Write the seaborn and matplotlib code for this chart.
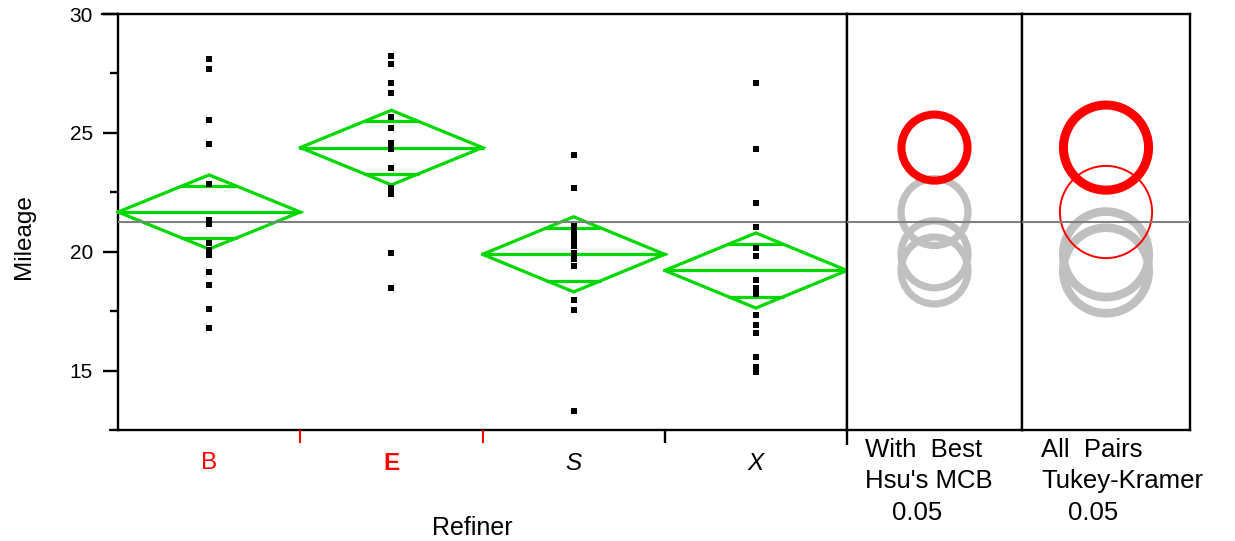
import numpy as np
import pandas as pd
import matplotlib
matplotlib.use("Agg")
import matplotlib.pyplot as plt
import seaborn as sns
from matplotlib.patches import Circle
from matplotlib.lines import Line2D

# ---------------- data ----------------
refiners = ["B", "E", "S", "X"]
mileage_B = [28.11, 27.69, 25.54, 24.53, 22.85, 21.35, 21.18, 20.38, 20.09, 19.85,
             19.16, 18.60, 17.60, 16.80]
mileage_E = [28.25, 27.90, 27.11, 26.68, 25.67, 25.22, 24.58, 24.32, 23.51, 22.68,
             22.43, 19.96, 18.49]
mileage_S = [24.07, 22.70, 21.10, 20.96, 20.71, 20.46, 20.25, 19.95, 19.70, 19.40,
             17.95, 17.55, 13.32]
mileage_X = [27.11, 24.32, 22.06, 21.06, 20.17, 19.84, 18.81, 18.48, 18.23, 17.34,
             16.91, 16.60, 15.59, 15.16, 14.95]
group_means = [21.67, 24.38, 19.89, 19.21]
ci_half = [1.56, 1.57, 1.58, 1.58]
grand_mean = 21.26
y_major = [15, 20, 25, 30]
y_minor = [17.5, 22.5, 27.5]
hsu_outer_radius = 1.56
tukey_outer_radius = 1.98
hsu_colors = ["#c0c0c0", "#ff0000", "#c0c0c0", "#c0c0c0"]
hsu_widths = [5.2, 5.8, 5.2, 5.2]
tukey_colors = ["#ff0000", "#ff0000", "#c0c0c0", "#c0c0c0"]
tukey_widths = [1.4, 6.5, 6.2, 6.2]
boundary_ticks = [0.5, 1.5, 2.5, 3.5]
boundary_colors = ["#ff0000", "#ff0000", "black", "black"]
panel_labels = [["With  Best", "Hsu's MCB", "0.05"],
                ["All  Pairs", "Tukey-Kramer", "0.05"]]

# ---------------- style ----------------
sns.set_theme(style="white")
plt.rcParams["font.family"] = ["Liberation Sans", "DejaVu Sans"]
for k in ("text.color", "axes.labelcolor", "xtick.color", "ytick.color",
          "axes.edgecolor"):
    plt.rcParams[k] = "black"

GREEN = "#00d800"
W, H = 1235, 541
fig = plt.figure(figsize=(W / 100, H / 100), dpi=100)


def fx(px):
    return px / W


def fy(py):
    return 1 - py / H


TOP, BOT = 14, 430
X0, X1, X2, X3 = 118, 847, 1022, 1190
hgt = (BOT - TOP) / H
ax = fig.add_axes([fx(X0), fy(BOT), fx(X1 - X0), hgt])
ax1 = fig.add_axes([fx(X1), fy(BOT), fx(X2 - X1), hgt])
ax2 = fig.add_axes([fx(X2), fy(BOT), fx(X3 - X2), hgt])
YLIM = (12.5, 30)

# ---------------- main oneway plot ----------------
df = pd.DataFrame({
    "Refiner": (["B"] * len(mileage_B) + ["E"] * len(mileage_E)
                + ["S"] * len(mileage_S) + ["X"] * len(mileage_X)),
    "Mileage": mileage_B + mileage_E + mileage_S + mileage_X,
})
sns.stripplot(data=df, x="Refiner", y="Mileage", order=refiners, jitter=False,
              marker="s", size=4.4, color="black", linewidth=0, ax=ax, zorder=5)

for i, (m, h) in enumerate(zip(group_means, ci_half)):
    kw = dict(color=GREEN, lw=2.3, zorder=3, clip_on=False, solid_joinstyle="miter")
    ax.plot([i - 0.5, i, i + 0.5, i, i - 0.5], [m, m + h, m, m - h, m], **kw)
    ax.plot([i - 0.5, i + 0.5], [m, m], **kw)
    d = h / np.sqrt(2)
    hw = 0.5 * (1 - d / h)
    for s in (1, -1):
        ax.plot([i - hw, i + hw], [m + s * d, m + s * d], **kw)

for a in (ax, ax1, ax2):
    a.axhline(grand_mean, color="#808080", lw=1.5, zorder=4)
    a.set_ylim(*YLIM)
    for sp in a.spines.values():
        sp.set_visible(True)
        sp.set_color("black")
        sp.set_linewidth(1.7)

ax.set_xlim(-0.5, 3.5)
ax.set_xlabel("")
ax.set_ylabel("")
ax.set_yticks(y_major)
ax.set_yticklabels([str(v) for v in y_major])
ax.set_yticks(y_minor, minor=True)
ax.tick_params(axis="y", which="major", left=True, length=11, width=1.7,
               pad=7, labelsize=15, color="black", labelcolor="black",
               direction="out")
ax.tick_params(axis="y", which="minor", left=True, length=5.8, width=1.7,
               color="black", direction="out")

ax.set_xticks(range(len(refiners)))
ax.set_xticklabels(refiners)
ax.tick_params(axis="x", which="both", length=0, pad=16, labelsize=17.5,
               labelcolor="black")
labs = ax.get_xticklabels()
labs[0].set_color("#ff0000")
labs[1].set_color("#ff0000")
labs[1].set_fontweight("bold")
labs[2].set_fontstyle("italic")
labs[3].set_fontstyle("italic")

# boundary ticks between categories (drawn below the axis)
ppx_axes = 1.0 / (BOT - TOP)
xtr = ax.get_xaxis_transform()
for xb, c in zip(boundary_ticks, boundary_colors):
    L = 15 if xb == boundary_ticks[-1] else 13
    ax.plot([xb, xb], [0, -L * ppx_axes], color=c, lw=1.7 if c == "black" else 1.5,
            transform=xtr, clip_on=False, zorder=6, solid_capstyle="butt")

# ---------------- comparison circles ----------------
ppu = (BOT - TOP) / (YLIM[1] - YLIM[0])  # pixels per data unit


def circles(a, width_px, outer, colors, widths):
    half = width_px / 2 / ppu
    a.set_xlim(-half, half)
    a.set_xticks([])
    a.set_yticks([])
    order = sorted(range(len(colors)), key=lambda k: colors[k] != "#c0c0c0")
    for k in order:
        lw_px = widths[k] * 100 / 72
        r = outer - lw_px / 2 / ppu
        a.add_patch(Circle((0, group_means[k]), r, fill=False,
                           ec=colors[k], lw=widths[k],
                           zorder=2 if colors[k] == "#c0c0c0" else 3))


circles(ax1, X2 - X1, hsu_outer_radius, hsu_colors, hsu_widths)
circles(ax2, X3 - X2, tukey_outer_radius, tukey_colors, tukey_widths)

# ---------------- frame extensions ----------------
fig.add_artist(Line2D([fx(102), fx(X0)], [fy(TOP), fy(TOP)], lw=1.7, color="black"))
fig.add_artist(Line2D([fx(110), fx(X0)], [fy(BOT), fy(BOT)], lw=1.7, color="black"))

# ---------------- texts ----------------
fig.text(fx(24), fy(237), "Mileage", rotation=90, ha="center", va="center",
         fontsize=17.5, color="black")
fig.text(fx(472), fy(535), "Refiner", ha="center", va="baseline",
         fontsize=18, color="black")
for (lx, lx2), lines in zip([(865, 892), (1041, 1068)], panel_labels):
    for j, (txt, by) in enumerate(zip(lines, [457, 488, 520])):
        fig.text(fx(lx2 if j == 2 else lx), fy(by), txt, ha="left",
                 va="baseline", fontsize=18.5, color="black")

fig.savefig("out.png", dpi=100)
